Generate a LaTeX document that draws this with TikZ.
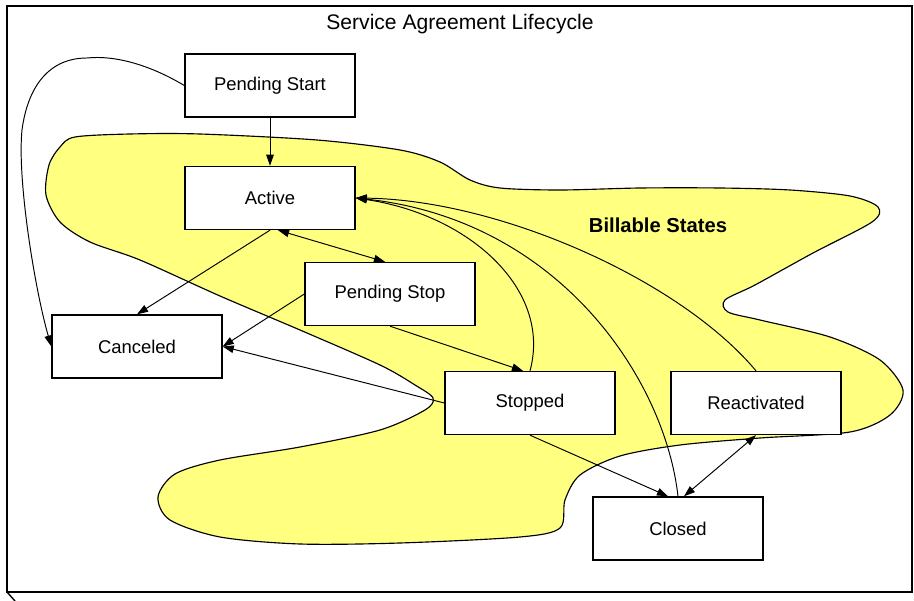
\documentclass[tikz,border=0pt]{standalone}
\usepackage{fontspec}
\setmainfont{Liberation Sans}
\usetikzlibrary{arrows.meta,calc}
\definecolor{billable}{RGB}{255,255,128}
\begin{document}
\begin{tikzpicture}[x=0.02cm,y=-0.02cm,
  >={Triangle[length=6.3pt,width=4.3pt]},
  sabox/.style={draw=black,line width=0.8pt,fill=white,minimum width=3.4cm,minimum height=1.26cm,inner sep=0pt,font=\fontsize{10.5}{12}\selectfont},
  link/.style={line width=0.55pt}]

\useasboundingbox (0,0) rectangle (914,601);

\draw[line width=1.1pt] (7,6) rectangle (912,592);
\draw[line width=0.8pt] (7,592) -- (15,601);

\filldraw[fill=billable,draw=black,line width=0.65pt] plot[smooth cycle,tension=0.5] coordinates {
  (75,137) (130,134) (200,134) (317,140) (400,150) (440,162) (470,180) (500,188)
  (560,190) (640,188) (720,188) (790,190) (850,196) (878,207) (872,222) (813,253)
  (755,285) (725,300) (728,312) (760,320) (830,337) (880,360) (903,390) (890,415)
  (850,432) (760,438) (680,445) (620,456) (580,475) (565,500) (560,528) (520,537)
  (400,543) (300,544) (220,537) (170,520) (158,497) (175,474) (220,460) (300,447)
  (380,430) (425,410) (433,398) (415,385) (380,365) (300,330) (220,296) (140,260)
  (90,242) (60,222) (46,195) (49,165) (60,147)};

\node (title) at (460,24) {\fontsize{12}{14}\selectfont Service Agreement Lifecycle};
\node[font=\fontsize{11.5}{14}\selectfont\bfseries] (billable) at (658,225) {Billable States};

\node[sabox] (pstart) at (270,85.5) {Pending Start};
\node[sabox] (active) at (270,198) {Active};
\node[sabox] (pstop) at (390,294) {Pending Stop};
\node[sabox] (canceled) at (137,346.5) {Canceled};
\node[sabox] (stopped) at (530,403) {Stopped};
\node[sabox] (react) at (756,403) {Reactivated};
\node[sabox] (closed) at (678,528.5) {Closed};

\draw[link,->] (pstart.south) -- (active.north);
\draw[link,->] (pstart.west) .. controls (150,65) and (115,55) .. (87,58)
  .. controls (50,58) and (28,85) .. (22,130)
  .. controls (17,180) and (35,290) .. (canceled.west);
\draw[link,->] (active.south) -- (canceled.north);
\draw[link,<->] ($(active.south)+(8,0)$) -- ($(pstop.north)+(-5,0)$);
\draw[link,->] (pstop.west) -- (canceled.east);
\draw[link,->] (stopped.west) -- (canceled.east);
\draw[link,->] (pstop.south) -- ($(stopped.north)+(-7,0)$);
\draw[link,->] (stopped.north) .. controls (552,290) and (470,215) .. (active.east);
\draw[link,->] (closed.north) .. controls (665,380) and (560,220) .. (active.east);
\draw[link,->] (react.north) .. controls (680,280) and (500,200) .. (active.east);
\draw[link,->] (stopped.south) -- ($(closed.north)+(-10,0)$);
\draw[link,<->] (react.south) -- ($(closed.north)+(6,0)$);

\end{tikzpicture}
\end{document}
